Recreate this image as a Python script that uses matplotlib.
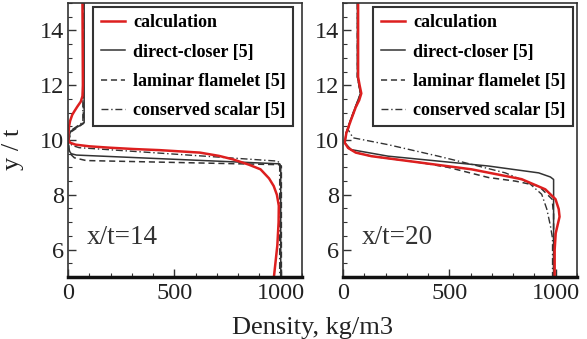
import numpy as np
import matplotlib
matplotlib.use("Agg")
from matplotlib import pyplot as plt
from matplotlib.ticker import MultipleLocator

# x/t = 14 profiles (density, y/t)
calc14_y = [15, 12.0, 11.6, 11.4, 11.22, 11.05, 10.92, 10.7, 10.5, 10.2, 10.0, 9.9, 9.83, 9.77, 9.72, 9.67, 9.63, 9.54, 9.42, 9.29, 9.1, 8.93, 8.6, 8.32, 8.0, 7.6, 7.0, 6.15, 5.0]
calc14_x = [68, 70, 68, 60, 44, 30, 20, 10, 5, 2, 2, 10, 36, 100, 194, 310, 431, 620, 710, 777, 850, 905, 945, 967, 982, 991, 990, 984, 968]
direct14_y = [15, 10.63, 10.32, 10.05, 9.8, 9.6, 9.5, 9.45, 9.13, 9.05, 5]
direct14_x = [76, 76, 12, 3, 2, 6, 15, 40, 995, 1000, 1000]
laminar14_y = [15, 10.6, 10.3, 10.0, 9.7, 9.5, 9.35, 9.25, 9.1, 9.05, 5]
laminar14_x = [72, 72, 15, 4, 4, 10, 30, 85, 990, 1003, 1003]
conserved14_y = [15, 10.65, 10.35, 10.05, 9.9, 9.8, 9.72, 9.23, 9.15, 5]
conserved14_x = [70, 70, 14, 3, 6, 20, 52, 985, 995, 995]

# x/t = 20 profiles
calc20_y = [15, 12.3, 12.0, 11.7, 11.45, 11.2, 10.74, 10.26, 9.9, 9.71, 9.54, 9.41, 9.17, 8.93, 8.57, 8.2, 7.84, 7.48, 7.2, 6.6, 6.0, 5.0]
calc20_x = [71, 71, 78, 86, 76, 60, 38, 16, 8, 24, 60, 133, 369, 604, 840, 951, 999, 1014, 1018, 1000, 995, 995]
direct20_y = [15, 12.3, 11.7, 11.2, 10.74, 10.26, 9.9, 9.65, 9.41, 9.23, 9.05, 8.8, 8.65, 8.56, 5]
direct20_x = [68, 68, 82, 58, 36, 15, 8, 38, 212, 448, 684, 920, 975, 990, 990]
laminar20_y = [15, 12.3, 11.7, 11.2, 10.74, 10.26, 9.9, 9.71, 9.54, 9.41, 9.17, 9.0, 8.63, 8.5, 8.32, 7.84, 7.3, 5]
laminar20_x = [68, 68, 84, 58, 36, 15, 8, 24, 60, 133, 369, 495, 684, 810, 920, 983, 990, 990]
conserved20_y = [15, 12.3, 11.7, 11.2, 10.74, 10.38, 10.08, 9.83, 9.41, 9.17, 8.8, 8.44, 8.02, 7.48, 6.87, 6.4, 5]
conserved20_x = [68, 68, 82, 62, 38, 24, 47, 212, 448, 574, 763, 873, 934, 958, 975, 985, 985]

labels = ["calculation", "direct-closer [5]", "laminar flamelet [5]", "conserved scalar [5]"]
panel_titles = ["x/t=14", "x/t=20"]

plt.rcParams["font.family"] = ["Liberation Serif", "DejaVu Serif"]

fig = plt.figure(figsize=(5.87, 3.39), dpi=100)
ax1 = fig.add_axes([68/587, 1-277/339, 234/587, 274/339])
ax2 = fig.add_axes([343/587, 1-277/339, 234/587, 274/339])

panels = [
    (ax1, calc14_x, calc14_y, direct14_x, direct14_y, laminar14_x, laminar14_y, conserved14_x, conserved14_y, 0.962),
    (ax2, calc20_x, calc20_y, direct20_x, direct20_y, laminar20_x, laminar20_y, conserved20_x, conserved20_y, 0.983),
]

for i, (ax, cx, cy, dx, dy, lx, ly, sx, sy, lright) in enumerate(panels):
    l2, = ax.plot(dx, dy, color="#333333", lw=1.1, ls="-")
    l3, = ax.plot(lx, ly, color="#333333", lw=1.1, ls=(0, (4, 2.5)))
    l4, = ax.plot(sx, sy, color="#333333", lw=1.0, ls=(0, (5, 2, 1, 2)))
    l1, = ax.plot(cx, cy, color="#dd1f1f", lw=1.8)
    ax.set_xlim(0, 1100)
    ax.set_ylim(5, 15)
    ax.xaxis.set_major_locator(MultipleLocator(500))
    ax.xaxis.set_minor_locator(MultipleLocator(100))
    ax.yaxis.set_major_locator(MultipleLocator(2))
    ax.yaxis.set_minor_locator(MultipleLocator(0.5))
    ax.tick_params(which="both", direction="in", colors="#333333", labelsize=17.5,
                   labelcolor="#222222")
    ax.tick_params(which="major", length=6, width=1.0)
    ax.tick_params(which="minor", length=3, width=0.8)
    ax.tick_params(axis="x", pad=4)
    ax.tick_params(axis="y", pad=3)
    for s in ax.spines.values():
        s.set_color("#333333")
        s.set_linewidth(1.2)
    ax.spines["bottom"].set_color("#111111")
    ax.spines["bottom"].set_linewidth(2.5)
    ax.text(88, 6.2, panel_titles[i], fontsize=19.5, color="#333333")
    leg = ax.legend([l1, l2, l3, l4], labels, loc="upper right",
                    bbox_to_anchor=(lright, 0.985), borderaxespad=0,
                    fancybox=False, framealpha=1, edgecolor="#333333",
                    prop={"weight": "bold", "size": 13}, handlelength=1.35,
                    labelspacing=0.68, handletextpad=0.45, borderpad=0.4)
    leg.get_frame().set_linewidth(1.5)

ax1.set_ylabel("y / t", fontsize=19, color="#222222")
ax1.yaxis.set_label_coords(-0.19, 0.464)
fig.text(313/587, 1-317/339, "Density, kg/m3", ha="center", va="top",
         fontsize=19, color="#222222")

fig.savefig("out.png", dpi=100)
